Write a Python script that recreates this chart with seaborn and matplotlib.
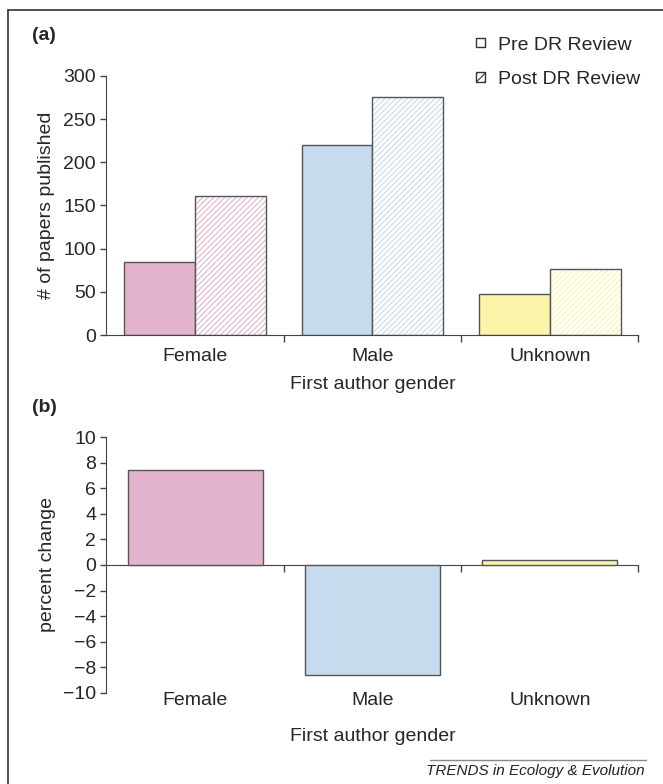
import matplotlib
matplotlib.use('Agg')
import matplotlib.pyplot as plt
import matplotlib.patches as mpatches
from matplotlib.lines import Line2D
import pandas as pd
import seaborn as sns

# values
genders = ['Female', 'Male', 'Unknown']
pre_review = [84, 220, 48]
post_review = [161, 276, 76]
pct_change = [7.4, -8.6, 0.4]
periods = ['Pre DR Review', 'Post DR Review']
bar_colors = ['#E3B3CD', '#C7DBEE', '#FCF5A9']
yticks_a = [0, 50, 100, 150, 200, 250, 300]
yticks_b = [-10, -8, -6, -4, -2, 0, 2, 4, 6, 8, 10]

sns.set_style('ticks')
plt.rcParams['font.family'] = ['Liberation Sans', 'DejaVu Sans']
plt.rcParams['hatch.linewidth'] = 0.8
edge = '#555555'
axis_col = '#444444'
fs = 14

df_a = pd.DataFrame({
    'gender': genders * 2,
    'papers': pre_review + post_review,
    'period': [periods[0]] * 3 + [periods[1]] * 3,
})

fig = plt.figure(figsize=(6.63, 7.84), dpi=100)
ax1 = fig.add_axes([0.1606, 0.5727, 0.8024, 0.3304])
ax2 = fig.add_axes([0.1606, 0.1161, 0.8024, 0.3265])

# (a) papers published
sns.barplot(data=df_a, x='gender', y='papers', hue='period', order=genders,
            hue_order=periods, width=0.8, saturation=1, edgecolor=edge,
            linewidth=1, legend=False, ax=ax1)
for bar, c in zip(ax1.containers[0], bar_colors):
    bar.set_facecolor(c)
for bar, c in zip(ax1.containers[1], bar_colors):
    bar.set_facecolor('white')
    bar.set_hatch('//////')
    bar.set_edgecolor(c)
    bar.set_linewidth(0)
    ax1.add_patch(mpatches.Rectangle(bar.get_xy(), bar.get_width(), bar.get_height(),
                                     fill=False, edgecolor=edge, linewidth=1,
                                     zorder=bar.get_zorder() + 0.1))

ax1.set_xlim(-0.5, 2.5)
ax1.set_ylim(0, 300)
ax1.set_yticks(yticks_a)
ax1.set_xticks([0, 1, 2], genders)
ax1.set_xticks([0.5, 1.5, 2.5], minor=True)
ax1.tick_params(axis='x', which='major', length=0, pad=9, labelsize=fs)
ax1.tick_params(axis='x', which='minor', length=5, width=1, color=axis_col)
ax1.tick_params(axis='y', length=4, width=1, pad=3.5, labelsize=fs, color=axis_col)
ax1.set_xlabel('First author gender', fontsize=fs, labelpad=8)
ax1.set_ylabel('# of papers published', fontsize=fs, labelpad=6)
sns.despine(ax=ax1)
for s in ['left', 'bottom']:
    ax1.spines[s].set_color(axis_col)

# (b) percent change
sns.barplot(x=genders, y=pct_change, hue=genders, palette=bar_colors, width=0.76,
            saturation=1, edgecolor=edge, linewidth=1, legend=False, ax=ax2)
ax2.set_xlim(-0.5, 2.5)
ax2.set_ylim(-10, 10)
ax2.set_yticks(yticks_b)
ax2.set_xticks([0, 1, 2], genders)
ax2.tick_params(axis='x', length=0, pad=-1, labelsize=fs)
ax2.tick_params(axis='y', length=4, width=1, pad=3.5, labelsize=fs, color=axis_col)
ax2.set_xlabel('First author gender', fontsize=fs, labelpad=14)
ax2.set_ylabel('percent change', fontsize=fs, labelpad=5)
sns.despine(ax=ax2, bottom=True)
ax2.spines['left'].set_color(axis_col)

zero = ax2.secondary_xaxis(0.5)
zero.set_alignment('bottom')
zero.set_xticks([0.5, 1.5, 2.5], labels=[])
zero.tick_params(length=5, width=1, color=axis_col)
zero.spines['bottom'].set_color(axis_col)

# legend
handles = [mpatches.Patch(facecolor='white', edgecolor='#333333', linewidth=1, label=periods[0]),
           mpatches.Patch(facecolor='white', edgecolor='#333333', linewidth=1, hatch='////',
                          label=periods[1])]
fig.legend(handles=handles, loc='upper left', bbox_to_anchor=(476 / 663, 1 - 36.5 / 784),
           frameon=False, fontsize=fs, handlelength=0.47, handleheight=0.34,
           handletextpad=0.67, labelspacing=0.9, borderaxespad=0, borderpad=0)

# panel letters, frame and footer
fig.text(44 / 663, 1 - 35 / 784, '(a)', ha='center', va='center', fontsize=fs, fontweight='bold')
fig.text(44 / 663, 1 - 408 / 784, '(b)', ha='center', va='center', fontsize=fs, fontweight='bold')
fig.add_artist(Line2D([8 / 663, 8 / 663], [0, 1 - 9.5 / 784], transform=fig.transFigure,
                      color='#333333', lw=1.2))
fig.add_artist(Line2D([8 / 663, 1], [1 - 9.5 / 784, 1 - 9.5 / 784], transform=fig.transFigure,
                      color='#333333', lw=1.2))
fig.add_artist(Line2D([430 / 663, 646 / 663], [1 - 760 / 784, 1 - 760 / 784],
                      transform=fig.transFigure, color='#888888', lw=1))
fig.text(645 / 663, 1 - 771 / 784, 'TRENDS in Ecology & Evolution', ha='right', va='center',
         style='italic', fontsize=11, color='#222222')

fig.savefig('out.png', dpi=100)
